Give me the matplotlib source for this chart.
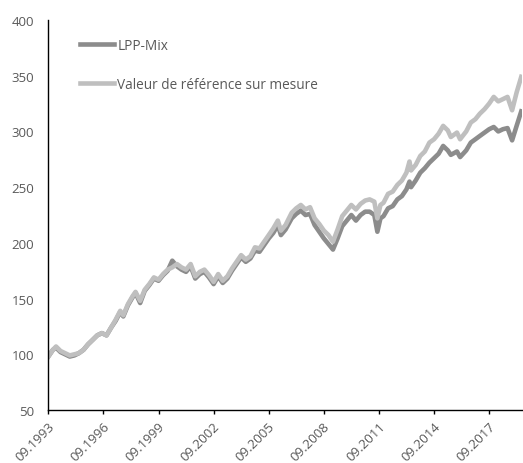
import matplotlib
matplotlib.use("Agg")
import matplotlib.pyplot as plt
import matplotlib.dates as mdates
import matplotlib.transforms as mtransforms
import pandas as pd

dates = [
    "1993-09", "1993-12", "1994-02", "1994-05", "1994-08", "1994-11",
    "1995-02", "1995-05", "1995-08", "1995-11", "1996-02", "1996-05",
    "1996-08", "1996-11", "1997-02", "1997-05", "1997-08", "1997-10",
    "1998-01", "1998-04", "1998-06", "1998-09", "1998-12", "1999-03",
    "1999-06", "1999-09", "1999-12", "2000-03", "2000-06", "2000-09",
    "2000-12", "2001-03", "2001-06", "2001-09", "2001-12", "2002-03",
    "2002-06", "2002-09", "2002-12", "2003-03", "2003-06", "2003-09",
    "2003-12", "2004-03", "2004-06", "2004-09", "2004-12", "2005-03",
    "2005-06", "2005-09", "2005-12", "2006-03", "2006-05", "2006-08",
    "2006-12", "2007-03", "2007-06", "2007-09", "2007-12", "2008-03",
    "2008-06", "2008-09", "2008-12", "2009-03", "2009-06", "2009-09",
    "2009-12", "2010-03", "2010-06", "2010-09", "2010-12", "2011-03",
    "2011-06", "2011-08", "2011-10", "2011-12", "2012-03", "2012-06",
    "2012-09", "2012-12", "2013-03", "2013-05", "2013-06", "2013-09",
    "2013-12", "2014-03", "2014-06", "2014-09", "2014-12", "2015-03",
    "2015-06", "2015-08", "2015-12", "2016-02", "2016-06", "2016-09",
    "2016-12", "2017-03", "2017-06", "2017-09", "2017-12", "2018-03",
    "2018-06", "2018-09", "2018-12", "2019-03", "2019-06",
]

lpp_mix = [
    98, 104, 106, 102, 100, 98,
    99, 101, 104, 109, 113, 117,
    119, 117, 124, 130, 138, 134,
    144, 151, 155, 146, 157, 162,
    168, 166, 171, 175, 184, 179,
    176, 174, 179, 168, 172, 174,
    169, 163, 170, 164, 168, 175,
    181, 187, 183, 186, 193, 192,
    198, 204, 209, 216, 207, 212,
    222, 226, 229, 225, 226, 216,
    210, 204, 199, 194, 204, 215,
    220, 225, 220, 225, 228, 228,
    225, 210, 222, 224, 231, 233,
    239, 242, 248, 255, 250, 256,
    263, 267, 272, 276, 280, 287,
    283, 279, 282, 277, 283, 290,
    293, 296, 299, 302, 304, 300,
    302, 303, 292, 305, 318,
]

reference = [
    98, 104, 107, 103, 101, 99,
    100, 101, 104, 109, 113, 117,
    119, 117, 124, 131, 139, 135,
    145, 152, 156, 148, 158, 163,
    169, 167, 172, 176, 178, 181,
    178, 176, 181, 170, 174, 176,
    171, 165, 172, 166, 170, 177,
    183, 189, 185, 188, 196, 195,
    201, 207, 213, 220, 211, 216,
    227, 231, 234, 230, 232, 222,
    217, 211, 207, 201, 212, 224,
    229, 234, 230, 235, 238, 239,
    237, 222, 234, 236, 244, 246,
    252, 256, 263, 273, 265, 270,
    278, 282, 290, 293, 298, 305,
    301, 295, 299, 293, 300, 308,
    311, 316, 320, 325, 331, 327,
    329, 331, 319, 335, 349,
]

x = pd.to_datetime(dates)
grey_txt = "#595959"

fig = plt.figure(figsize=(5.23, 4.64), dpi=100)
ax = fig.add_axes([0.0924, 0.1142, 0.9056, 0.8405])

ax.plot(x, lpp_mix, color="#8c8c8c", linewidth=3.3, label="LPP-Mix")
ax.plot(x, reference, color="#bfbfbf", linewidth=3.3,
        label="Valeur de référence sur mesure")

ax.set_ylim(50, 400)
ax.set_yticks(range(50, 401, 50))
ax.set_xlim(pd.Timestamp("1993-09-01"), pd.Timestamp("2019-06-15"))
ticks = pd.to_datetime(["%d-09-01" % y for y in range(1993, 2018, 3)])
ax.set_xticks(ticks)
ax.xaxis.set_major_formatter(mdates.DateFormatter("%m.%Y"))

for s in ["top", "right"]:
    ax.spines[s].set_visible(False)
for s in ["left", "bottom"]:
    ax.spines[s].set_color("black")
    ax.spines[s].set_linewidth(1.0)

ax.tick_params(axis="y", length=0, pad=10, labelsize=9.5, labelcolor=grey_txt)
ax.tick_params(axis="x", direction="out", length=3, width=1, pad=7,
               labelsize=9.5, labelcolor=grey_txt)
shift = mtransforms.ScaledTranslation(4 / 100, 0, fig.dpi_scale_trans)
for lab in ax.get_xticklabels():
    lab.set_rotation(45)
    lab.set_ha("right")
    lab.set_va("center")
    lab.set_rotation_mode("anchor")
    lab.set_transform(lab.get_transform() + shift)

for t in ax.get_xticklabels() + ax.get_yticklabels():
    t.set_fontfamily("Open Sans")

leg = ax.legend(loc="upper left", bbox_to_anchor=(0.042, 0.985), frameon=False,
                handlelength=2.5, handletextpad=0.2, labelspacing=1.76,
                prop={"family": "Open Sans", "size": 9.8})
for t in leg.get_texts():
    t.set_color(grey_txt)

fig.savefig("out.png", dpi=100)
